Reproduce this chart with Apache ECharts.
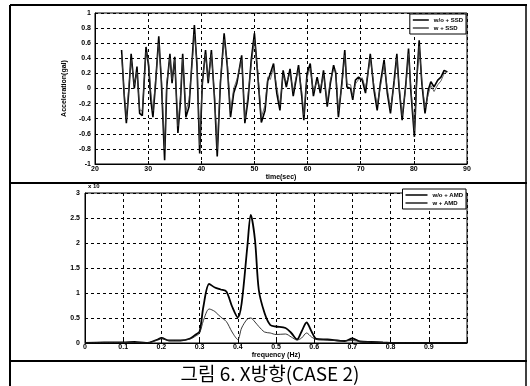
<!DOCTYPE html>
<html>
<head>
<meta charset="utf-8">
<script src="https://cdn.jsdelivr.net/npm/echarts@6/dist/echarts.min.js"></script>
<style>
  html, body { margin: 0; padding: 0; background: #fff; }
  #chart { width: 530px; height: 386px; }
</style>
</head>
<body>
<div id="chart"></div>
<script>
// top panel: time history
var times = [
  25.0, 25.5, 25.9, 26.4, 26.8, 27.4, 27.9, 28.4, 28.9, 29.6,
  30.1, 30.5, 30.9, 31.4, 32.0, 32.5, 33.1, 33.5, 34.1, 34.5,
  35.0, 35.6, 36.1, 36.5, 37.1, 37.7, 38.4, 38.7, 39.2, 39.7,
  40.2, 40.8, 41.3, 41.9, 42.5, 43.0, 43.6, 44.3, 44.9, 45.5,
  46.1, 46.7, 47.6, 48.2, 48.8, 49.4, 50.0, 50.6, 51.3, 52.0,
  52.5, 53.0, 53.6, 54.2, 54.8, 55.4, 56.0, 56.7, 57.3, 57.8,
  58.3, 58.9, 59.3, 59.9, 60.5, 61.1, 61.8, 62.4, 63.0, 63.7,
  64.3, 64.9, 65.3, 65.8, 66.5, 67.0, 67.4, 68.1, 68.5, 69.0,
  69.6, 70.3, 70.9, 71.8, 72.5, 73.1, 73.7, 74.4, 75.0, 75.6,
  76.3, 76.8, 77.2, 77.8, 78.5, 79.0, 79.4, 80.1, 80.5, 81.0,
  81.5, 82.1, 82.7, 83.2, 83.8, 84.5, 85.1, 85.7, 86.3
];
var accWithout = [
  0.51, -0.10, -0.46, 0.00, 0.46, 0.00, 0.29, -0.33, -0.36, 0.55,
  0.29, -0.15, -0.38, 0.07, 0.69, 0.07, -0.95, 0.02, 0.46, 0.07,
  0.42, -0.59, -0.15, 0.46, -0.38, -0.24, 0.51, 0.84, 0.29, -0.86,
  0.07, 0.51, 0.07, 0.51, -0.15, -0.90, 0.07, 0.73, 0.29, -0.38,
  -0.06, 0.07, 0.44, -0.46, -0.15, 0.38, 0.73, 0.20, -0.45, -0.29,
  0.10, 0.20, 0.33, -0.06, -0.29, 0.24, 0.02, 0.26, -0.10, 0.10,
  0.31, -0.10, -0.42, 0.20, 0.33, -0.10, 0.15, -0.06, 0.24, -0.24,
  0.07, 0.31, 0.20, -0.38, 0.11, 0.51, 0.02, 0.00, -0.15, 0.11,
  0.15, 0.11, -0.06, 0.46, -0.02, -0.29, 0.07, 0.38, -0.06, -0.33,
  0.11, 0.46, 0.02, -0.42, 0.07, 0.53, 0.00, -0.64, 0.07, 0.64,
  0.07, -0.33, -0.02, 0.09, 0.02, 0.11, 0.15, 0.24, 0.22
];
var accWith = [
  0.45, -0.05, -0.40, 0.05, 0.38, 0.05, 0.22, -0.28, -0.30, 0.48,
  0.35, -0.05, -0.30, 0.12, 0.60, 0.15, -0.80, 0.08, 0.40, 0.12,
  0.38, -0.50, -0.08, 0.40, -0.30, -0.15, 0.45, 0.72, 0.35, -0.75,
  0.12, 0.45, 0.12, 0.45, -0.08, -0.80, 0.12, 0.65, 0.35, -0.30,
  0.00, 0.12, 0.38, -0.40, -0.08, 0.32, 0.65, 0.25, -0.38, -0.22,
  0.15, 0.12, 0.28, 0.02, -0.22, 0.18, 0.08, 0.20, -0.04, 0.14,
  0.25, -0.04, -0.35, 0.15, 0.27, -0.04, 0.10, 0.00, 0.18, -0.18,
  0.12, 0.25, 0.24, -0.30, 0.06, 0.44, 0.06, 0.05, -0.10, 0.06,
  0.12, 0.14, 0.00, 0.40, 0.03, -0.22, 0.02, 0.32, 0.00, -0.27,
  0.06, 0.40, 0.06, -0.36, 0.02, 0.46, 0.04, -0.56, 0.02, 0.56,
  0.10, -0.26, -0.08, 0.04, -0.04, 0.05, 0.10, 0.20, 0.22
];

// bottom panel: spectrum
var freqs = [
  0, 0.05, 0.10, 0.13, 0.16, 0.19, 0.20, 0.22, 0.25, 0.275,
  0.29, 0.30, 0.31, 0.325, 0.34, 0.355, 0.37, 0.385, 0.40, 0.41,
  0.425, 0.434, 0.445, 0.455, 0.47, 0.485, 0.50, 0.525, 0.54, 0.555,
  0.567, 0.58, 0.593, 0.606, 0.635, 0.68, 0.70, 0.72, 0.75, 0.78,
  0.82, 0.90, 1.0
];
var specWithout = [
  0.00, 0.01, 0.01, 0.02, 0.00, 0.07, 0.10, 0.05, 0.05, 0.09,
  0.17, 0.23, 0.73, 1.18, 1.11, 1.07, 1.03, 0.73, 0.51, 0.79,
  1.93, 2.56, 2.06, 1.06, 0.60, 0.36, 0.33, 0.30, 0.20, 0.07,
  0.23, 0.41, 0.23, 0.08, 0.07, 0.04, 0.09, 0.03, 0.02, 0.01,
  0.00, 0.00, 0.00
];
var specWith = [
  0.00, 0.01, 0.01, 0.01, 0.00, 0.06, 0.09, 0.05, 0.05, 0.08,
  0.14, 0.20, 0.45, 0.68, 0.63, 0.52, 0.43, 0.22, 0.07, 0.30,
  0.48, 0.50, 0.42, 0.33, 0.22, 0.20, 0.17, 0.18, 0.12, 0.06,
  0.10, 0.20, 0.12, 0.07, 0.06, 0.04, 0.05, 0.03, 0.02, 0.01,
  0.00, 0.00, 0.00
];

var topNames = ["w/o + SSD", "w + SSD"];
var botNames = ["w/o + AMD", "w + AMD"];
var caption = "그림 6. X방향(CASE 2)";

function pairs(xs, ys) {
  return xs.map(function (x, i) { return [x, ys[i]]; });
}

var font = "Liberation Sans";
var labelStyle = { color: "#000", fontSize: 7, fontWeight: "bold", fontFamily: font };
var dash = { color: "#000", width: 1, type: [3, 3] };

var myChart = echarts.init(document.getElementById("chart"));

var option = {
  backgroundColor: "#fff",
  animation: false,
  grid: [
    { left: 95, top: 13, width: 372, height: 151, show: true, borderColor: "#000", borderWidth: 1 },
    { left: 85, top: 193, width: 382, height: 150, show: true, borderColor: "#000", borderWidth: 1 }
  ],
  legend: [
    {
      data: topNames, right: 64, top: 14, orient: "vertical", itemGap: 2,
      icon: "rect", itemWidth: 16, itemHeight: 1.5, padding: [3, 3],
      backgroundColor: "#fff", borderColor: "#000", borderWidth: 1,
      textStyle: { color: "#000", fontSize: 6, fontWeight: "bold", fontFamily: font }
    },
    {
      data: botNames, right: 64, top: 189, orient: "vertical", itemGap: 2,
      icon: "rect", itemWidth: 22, itemHeight: 1.5, padding: [3, 3],
      backgroundColor: "#fff", borderColor: "#000", borderWidth: 1,
      textStyle: { color: "#000", fontSize: 6, fontWeight: "bold", fontFamily: font }
    }
  ],
  xAxis: [
    {
      gridIndex: 0, type: "value", min: 20, max: 90, interval: 10,
      name: "time(sec)", nameLocation: "middle", nameGap: 10,
      nameTextStyle: labelStyle,
      axisLine: { onZero: false, lineStyle: { color: "#000" } },
      axisTick: { inside: true, length: 3, lineStyle: { color: "#000" } },
      axisLabel: Object.assign({ margin: 2 }, labelStyle),
      splitLine: { show: true, lineStyle: dash }
    },
    {
      gridIndex: 1, type: "value", min: 0, max: 1, interval: 0.1,
      name: "frequency (Hz)", nameLocation: "middle", nameGap: 9,
      nameTextStyle: labelStyle,
      axisLine: { onZero: false, lineStyle: { color: "#000" } },
      axisTick: { inside: true, length: 3, lineStyle: { color: "#000" } },
      axisLabel: Object.assign({
        margin: 1,
        formatter: function (v) { return v >= 1 ? "" : String(+v.toFixed(1)); }
      }, labelStyle),
      splitLine: { show: true, lineStyle: dash }
    }
  ],
  yAxis: [
    {
      gridIndex: 0, type: "value", min: -1, max: 1, interval: 0.2,
      name: "Acceleration(gal)", nameLocation: "middle", nameGap: 22, nameRotate: 90,
      nameTextStyle: labelStyle,
      axisLine: { onZero: false, lineStyle: { color: "#000" } },
      axisTick: { inside: true, length: 3, lineStyle: { color: "#000" } },
      axisLabel: Object.assign({ margin: 4,
        formatter: function (v) { return String(+v.toFixed(1)); } }, labelStyle),
      splitLine: { show: true, lineStyle: dash }
    },
    {
      gridIndex: 1, type: "value", min: 0, max: 3, interval: 0.5,
      axisLine: { onZero: false, lineStyle: { color: "#000" } },
      axisTick: { inside: true, length: 3, lineStyle: { color: "#000" } },
      axisLabel: Object.assign({ margin: 5 }, labelStyle),
      splitLine: { show: true, lineStyle: dash }
    }
  ],
  series: [
    {
      name: topNames[0], type: "line", xAxisIndex: 0, yAxisIndex: 0,
      data: pairs(times, accWithout), symbol: "none",
      lineStyle: { color: "#000", width: 1.6 }, itemStyle: { color: "#000" }
    },
    {
      name: topNames[1], type: "line", xAxisIndex: 0, yAxisIndex: 0,
      data: pairs(times, accWith), symbol: "none",
      lineStyle: { color: "#444", width: 0.8 }, itemStyle: { color: "#444" }
    },
    {
      name: botNames[0], type: "line", xAxisIndex: 1, yAxisIndex: 1,
      data: pairs(freqs, specWithout), symbol: "none", smooth: 0.3,
      lineStyle: { color: "#000", width: 1.8 }, itemStyle: { color: "#000" }
    },
    {
      name: botNames[1], type: "line", xAxisIndex: 1, yAxisIndex: 1,
      data: pairs(freqs, specWith), symbol: "none", smooth: 0.3,
      lineStyle: { color: "#222", width: 0.9 }, itemStyle: { color: "#222" }
    }
  ],
  graphic: [
    { type: "line", shape: { x1: 10, y1: 5, x2: 527, y2: 5 }, style: { stroke: "#000", lineWidth: 2 } },
    { type: "line", shape: { x1: 10, y1: 5, x2: 10, y2: 386 }, style: { stroke: "#000", lineWidth: 2 } },
    { type: "line", shape: { x1: 526, y1: 5, x2: 526, y2: 386 }, style: { stroke: "#000", lineWidth: 1.5 } },
    { type: "line", shape: { x1: 10, y1: 183, x2: 527, y2: 183 }, style: { stroke: "#000", lineWidth: 2 } },
    { type: "line", shape: { x1: 10, y1: 361, x2: 527, y2: 361 }, style: { stroke: "#000", lineWidth: 2 } },
    {
      type: "text", left: 88, top: 183,
      style: { text: "x 10", fill: "#000", font: "bold 6px Liberation Sans" }
    },
    {
      type: "text", x: 270, y: 374,
      style: {
        text: caption, fill: "#000", align: "center", verticalAlign: "middle",
        font: "19px 'Noto Sans CJK KR'"
      }
    }
  ]
};

myChart.setOption(option);
</script>
</body>
</html>
